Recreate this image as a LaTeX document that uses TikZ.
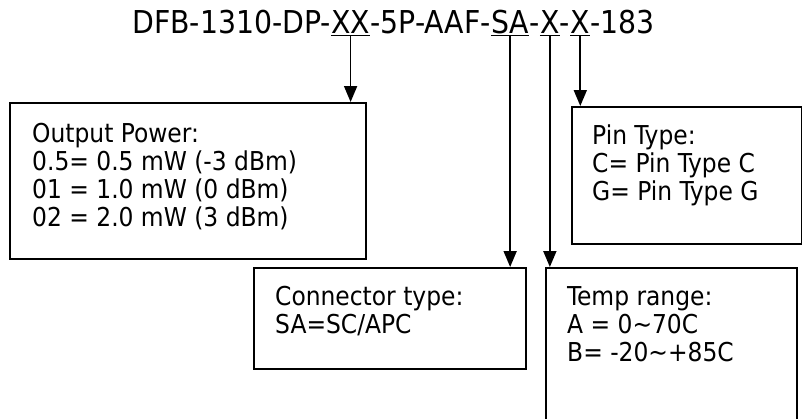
\documentclass[tikz,border=0pt]{standalone}
\usepackage{fontspec}
\setmainfont{DejaVu Sans Condensed}
\usetikzlibrary{arrows.meta}
\begin{document}
\begin{tikzpicture}[x=1pt,y=-1pt,
  tpart/.style={inner sep=0pt, anchor=base west, font=\fontsize{31.5}{36}\selectfont},
  box/.style={draw, line width=1.8pt, inner sep=0pt, anchor=north west},
  txt/.style={anchor=north west, inner sep=0pt, align=left, font=\fontsize{26}{28}\selectfont},
  arr/.style={line width=1.8pt, -{Triangle[length=16pt,width=13pt]}},
  uline/.style={line width=1.5pt}]
\useasboundingbox (0,0) rectangle (802,418);
\clip (0,0) rectangle (802,418);
% title
\node[tpart] (t1) at (132,33) {DFB-1310-DP-};
\node[tpart] (xx) at (t1.base east) {XX};
\node[tpart] (t2) at (xx.base east) {-5P-AAF-};
\node[tpart] (sa) at (t2.base east) {SA};
\node[tpart] (t3) at (sa.base east) {-};
\node[tpart] (xa) at (t3.base east) {X};
\node[tpart] (t4) at (xa.base east) {-};
\node[tpart] (xb) at (t4.base east) {X};
\node[tpart] (t5) at (xb.base east) {-183};
\foreach \n in {xx,sa,xa,xb}
  \draw[uline] ([yshift=-2.5pt]\n.base west) -- ([yshift=-2.5pt]\n.base east);
% boxes
\node[box, minimum width=356pt, minimum height=156pt] (b1) at (9,102) {};
\node[box, minimum width=272pt, minimum height=101pt] (b2) at (253,267) {};
\node[box, minimum width=251pt, minimum height=170pt] (b3) at (545,267) {};
\node[box, minimum width=230pt, minimum height=137pt] (b4) at (571,106) {};
% texts
\node[txt] (p1) at ([xshift=23pt,yshift=-18pt]b1.north west)
  {\rule{0pt}{22pt}Output Power:\\0.5= 0.5 mW (-3 dBm)\\01 = 1.0 mW (0 dBm)\\02 = 2.0 mW (3 dBm)};
\node[txt] (p2) at ([xshift=22pt,yshift=-16pt]b2.north west)
  {\rule{0pt}{22pt}Connector type:\\SA=SC/APC};
\node[txt] (p3) at ([xshift=22pt,yshift=-16pt]b3.north west)
  {\rule{0pt}{22pt}Temp range:\\A = 0\textasciitilde 70C\\B= -20\textasciitilde +85C};
\node[txt] (p4) at ([xshift=21pt,yshift=-16pt]b4.north west)
  {\rule{0pt}{22pt}Pin Type:\\C= Pin Type C\\G= Pin Type G};
% arrows
\draw[arr] ([yshift=-2.5pt]xx.base) -- (xx.base |- b1.north);
\draw[arr] ([yshift=-2.5pt]sa.base) -- (sa.base |- b2.north);
\draw[arr] ([yshift=-2.5pt]xa.base) -- (xa.base |- b3.north);
\draw[arr] ([yshift=-2.5pt]xb.base) -- (xb.base |- b4.north);
\end{tikzpicture}
\end{document}
